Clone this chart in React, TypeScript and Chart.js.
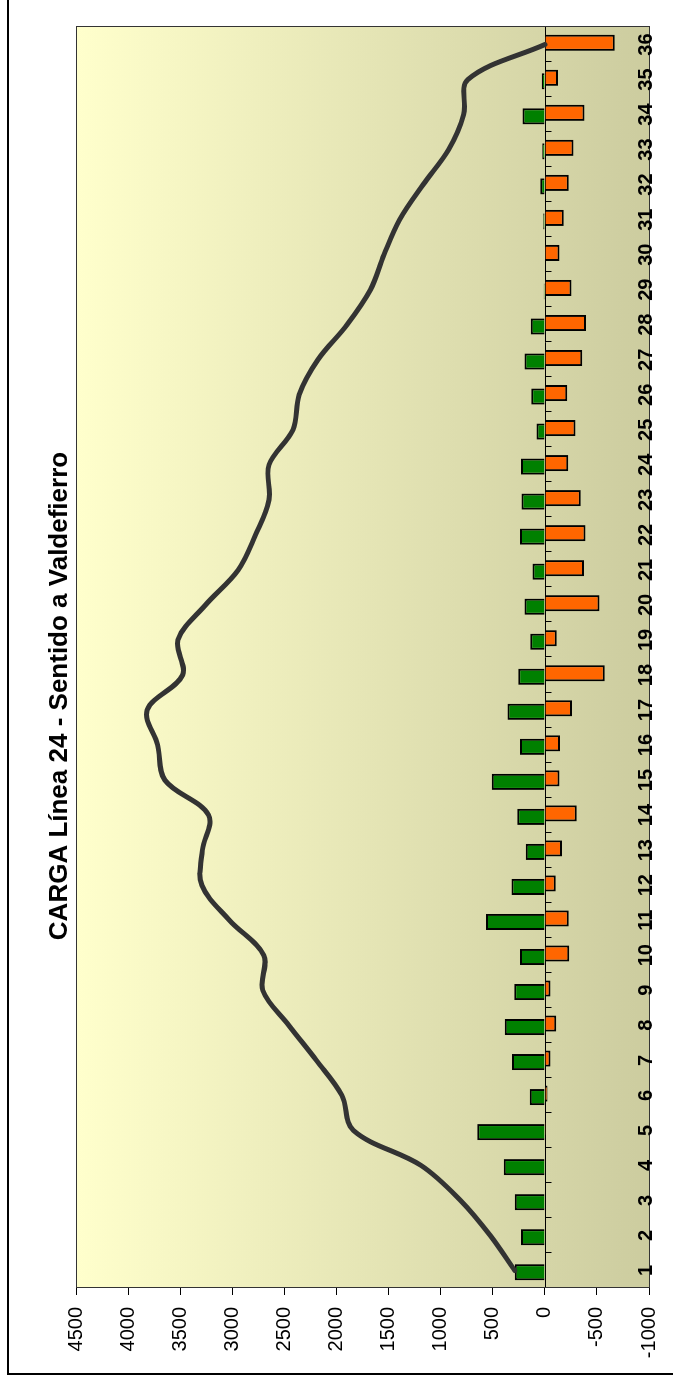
import React, { useEffect, useRef } from "react";
import { Chart, registerables } from "chart.js";

Chart.register(...registerables);

// Stop numbers (categories)
const categories = [
  "1", "2", "3", "4", "5", "6", "7", "8", "9", "10", "11", "12",
  "13", "14", "15", "16", "17", "18", "19", "20", "21", "22", "23", "24",
  "25", "26", "27", "28", "29", "30", "31", "32", "33", "34", "35", "36",
];

// Boardings (green bars, positive)
const subidas = [
  290, 230, 290, 395, 650, 145, 315, 385, 295, 240, 565, 320,
  185, 265, 510, 240, 360, 255, 140, 195, 120, 240, 225, 230,
  80, 130, 195, 135, 10, 0, 15, 45, 25, 215, 30, 0,
];

// Alightings (orange bars, negative)
const bajadas = [
  0, 0, 0, -5, -10, -25, -55, -110, -55, -235, -230, -105,
  -165, -305, -140, -145, -260, -575, -115, -525, -375, -390, -345, -225,
  -295, -215, -360, -395, -255, -140, -180, -230, -275, -380, -125, -670,
];

// Load on board (smoothed line)
const carga = [
  290, 525, 810, 1190, 1840, 1950, 2195, 2460, 2710, 2700, 3030, 3295,
  3290, 3230, 3650, 3720, 3820, 3480, 3525, 3260, 2945, 2780, 2650, 2650,
  2420, 2360, 2180, 1900, 1675, 1545, 1395, 1170, 925, 780, 740, 0,
];

const valueMin = -1000;
const valueMax = 4500;
const valueStep = 500;

const TITLE = "CARGA Línea 24 - Sentido a Valdefierro";
const FONT = '"Liberation Sans", Arial, sans-serif';

const W = 1382;
const H = 673;

const decoPlugin = {
  id: "deco",
  beforeDraw(chart: any) {
    const { ctx, chartArea } = chart;
    const { left, top, right, bottom } = chartArea;
    const g = ctx.createLinearGradient(0, top, 0, bottom);
    g.addColorStop(0, "#FFFFCC");
    g.addColorStop(1, "#CCCC9F");
    ctx.save();
    ctx.fillStyle = g;
    ctx.fillRect(left, top, right - left, bottom - top);
    ctx.restore();
  },
  beforeDatasetsDraw(chart: any) {
    const { ctx, chartArea, scales } = chart;
    const { left, right } = chartArea;
    const y0 = Math.round(scales.y.getPixelForValue(0)) + 0.5;
    ctx.save();
    ctx.strokeStyle = "#000";
    ctx.lineWidth = 1;
    ctx.beginPath();
    ctx.moveTo(left, y0);
    ctx.lineTo(right, y0);
    const n = categories.length;
    const step = (right - left) / n;
    for (let i = 0; i <= n; i++) {
      const x = Math.round(left + i * step) + 0.5;
      ctx.moveTo(x, y0);
      ctx.lineTo(x, y0 + 6);
    }
    ctx.stroke();
    ctx.restore();
  },
  afterDraw(chart: any) {
    const { ctx, chartArea, scales } = chart;
    const { left, top, right, bottom } = chartArea;
    ctx.save();
    // plot border
    ctx.strokeStyle = "#333";
    ctx.lineWidth = 1;
    ctx.strokeRect(Math.round(left) + 0.5, Math.round(top) + 0.5, Math.round(right - left), Math.round(bottom - top));
    // category labels (inside plot bottom)
    ctx.fillStyle = "#000";
    ctx.font = `bold 20px ${FONT}`;
    ctx.textAlign = "center";
    ctx.textBaseline = "alphabetic";
    categories.forEach((c, i) => {
      const x = scales.x.getPixelForValue(i);
      ctx.fillText(c, x, 652);
    });
    // title
    ctx.font = `bold 26px ${FONT}`;
    ctx.fillText(TITLE, 686, 67);
    ctx.restore();
  },
};

export default function App() {
  const ref = useRef<HTMLCanvasElement>(null);

  useEffect(() => {
    if (!ref.current) return;
    const chart = new Chart(ref.current, {
      type: "bar",
      data: {
        labels: categories,
        datasets: [
          {
            type: "line",
            label: "Carga",
            data: carga,
            borderColor: "#333333",
            borderWidth: 5,
            pointRadius: 0,
            tension: 0.35,
            fill: false,
            order: 0,
            borderCapStyle: "round",
            borderJoinStyle: "round",
          } as any,
          {
            type: "bar",
            label: "Subidas",
            data: subidas,
            backgroundColor: "#008000",
            borderColor: "#000000",
            borderWidth: 2,
            barPercentage: 4.6,
            categoryPercentage: 0.2,
            order: 1,
          } as any,
          {
            type: "bar",
            label: "Bajadas",
            data: bajadas,
            backgroundColor: "#FF6600",
            borderColor: "#000000",
            borderWidth: 2,
            barPercentage: 4.6,
            categoryPercentage: 0.2,
            order: 1,
          } as any,
        ],
      },
      options: {
        responsive: false,
        animation: false,
        devicePixelRatio: 1,
        layout: { padding: { top: 76.4, bottom: 23.4, left: 0, right: 27 } },
        plugins: {
          legend: { display: false },
          title: { display: false },
          tooltip: { enabled: false },
        },
        scales: {
          x: { display: false, offset: true },
          y: {
            min: valueMin,
            max: valueMax,
            ticks: {
              stepSize: valueStep,
              color: "#000",
              padding: 12,
              font: { family: FONT, size: 20 },
              callback: (v: any) => String(v),
            },
            grid: {
              drawOnChartArea: false,
              drawTicks: true,
              tickLength: 7,
              color: "#000",
            },
            border: { display: false },
            afterFit: (s: any) => {
              s.width = 94;
            },
          },
        },
      } as any,
      plugins: [decoPlugin],
    });
    return () => chart.destroy();
  }, []);

  return (
    <div
      style={{
        position: "fixed",
        left: 0,
        top: 0,
        width: W,
        height: H,
        transformOrigin: "0 0",
        transform: `translate(0px, ${W}px) rotate(-90deg)`,
        overflow: "hidden",
        background: "#fff",
      }}
    >
      <div
        style={{
          position: "absolute",
          left: 7,
          top: 7,
          width: 3000,
          height: 3000,
          borderTop: "2px solid #000",
          borderLeft: "2px solid #000",
        }}
      />
      <canvas
        ref={ref}
        width={W}
        height={H}
        style={{ position: "absolute", left: 0, top: 0, width: W, height: H }}
      />
    </div>
  );
}
